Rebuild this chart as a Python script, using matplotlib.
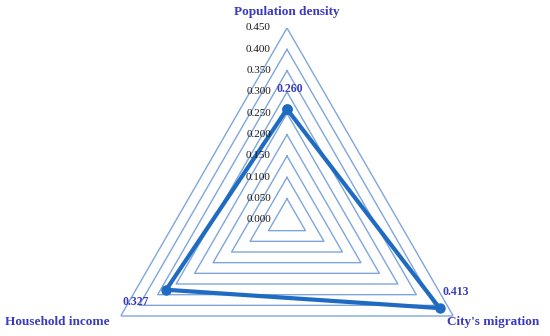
import numpy as np
import matplotlib.pyplot as plt

# Data
categories = ["Population density", "City's migration", "Household income"]
values = [0.260, 0.413, 0.327]
value_labels = ["0.260", "0.413", "0.327"]
levels = [0.05, 0.10, 0.15, 0.20, 0.25, 0.30, 0.35, 0.40, 0.45]
tick_values = [0.0, 0.05, 0.10, 0.15, 0.20, 0.25, 0.30, 0.35, 0.40, 0.45]
tick_labels = ["0.000", "0.050", "0.100", "0.150", "0.200", "0.250",
               "0.300", "0.350", "0.400", "0.450"]

grid_color = "#7FA6DC"
line_color = "#1F6BC2"
text_color = "#3A3AC0"
serif = ["Liberation Serif", "DejaVu Serif"]

W, H = 550, 336
fig = plt.figure(figsize=(W / 100, H / 100), dpi=100)

# polar axes sized so r=0.45 reaches 192 px, centred at (287, 220) px
cx, cy, R = 287, 220, 192
ax = fig.add_axes([(cx - R) / W, (H - cy - R) / H, 2 * R / W, 2 * R / H],
                  projection="polar")
ax.set_theta_offset(np.pi / 2)
ax.set_theta_direction(-1)
ax.set_ylim(0, 0.45)
ax.grid(False)
ax.spines["polar"].set_visible(False)
ax.set_xticks([])
ax.set_yticks([])
ax.patch.set_alpha(0)

angles = np.linspace(0, 2 * np.pi, len(categories), endpoint=False)
closed = np.append(angles, angles[0])

# triangular grid
for lv in levels:
    ax.plot(closed, [lv] * len(closed), color=grid_color, lw=1.0, zorder=1)

# data polygon
vals = values + values[:1]
ax.plot(closed, vals, color=line_color, lw=3, marker="o", ms=6.5, zorder=3)

# value axis labels
for v, lab in zip(tick_values, tick_labels):
    ax.annotate(lab, xy=(0, v), xytext=(-16, 0), textcoords="offset pixels",
                ha="right", va="center", fontsize=8, family=serif,
                color="#1a1a1a", annotation_clip=False)

# category labels
cat_offsets = [(0, 16), (40, -6), (-63, -6)]
for a, name, off in zip(angles, categories, cat_offsets):
    ax.annotate(name, xy=(a, 0.45), xytext=off, textcoords="offset pixels",
                ha="center", va="center", fontsize=9.5, fontweight="bold",
                family=serif, color=text_color, annotation_clip=False)

# data labels
val_offsets = [(3, 20), (16, 16), (-30, -12)]
for a, v, lab, off in zip(angles, values, value_labels, val_offsets):
    ax.annotate(lab, xy=(a, v), xytext=off, textcoords="offset pixels",
                ha="center", va="center", fontsize=8.5, fontweight="bold",
                family=serif, color=text_color, annotation_clip=False)

fig.savefig("out.png", dpi=100)
